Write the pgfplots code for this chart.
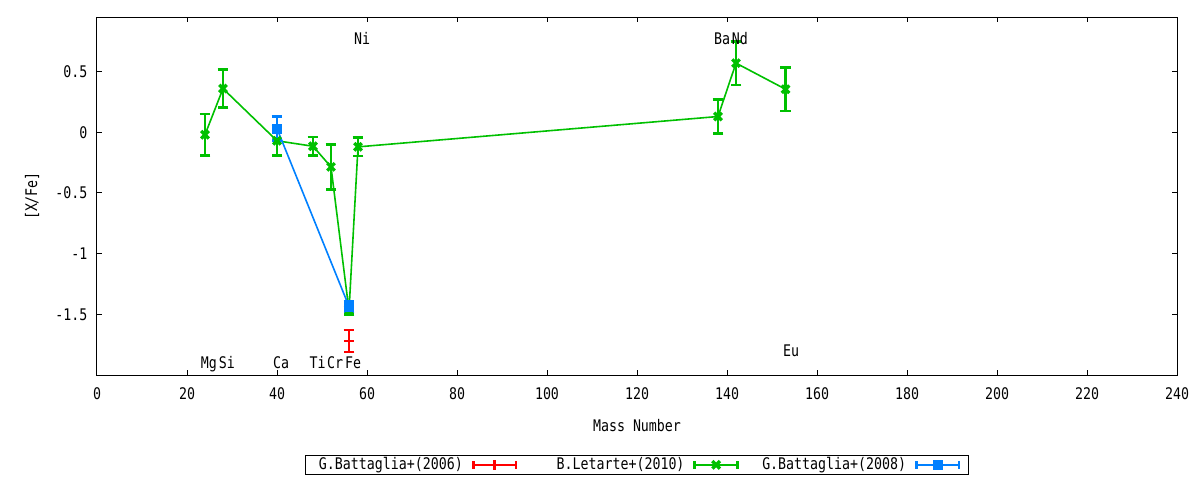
\documentclass[border=0pt]{standalone}
\usepackage{fontspec}
\setmainfont{DejaVu Sans Mono}[FakeStretch=0.83]
\usepackage{pgfplots}
\pgfplotsset{compat=1.18}
\definecolor{gpred}{RGB}{255,0,0}
\definecolor{gpgreen}{RGB}{0,192,0}
\definecolor{gpblue}{RGB}{0,128,255}
\pgfplotsset{
    gperr/.style={
        error bars/.cd,
            y dir=both, y explicit,
            error bar style={line width=2pt, #1},
            error mark=-,
            error mark options={rotate=90, line width=2pt, mark size=4pt, #1},
    },
}
\begin{document}
\fontsize{12}{14}\selectfont
\begin{tikzpicture}
\begin{axis}[
    scale only axis,
    width=810pt, height=268.5pt,
    xmin=0, xmax=240, ymin=-2, ymax=0.95,
    xtick={0,20,40,60,80,100,120,140,160,180,200,220,240},
    xticklabels={0,20,40,60,80,100,120,140,160,180,200,220,240},
    ytick={-1.5,-1,-0.5,0,0.5},
    yticklabels={-1.5,-1,-0.5,0,0.5},
    tick align=inside, tick pos=both,
    major tick length=4pt,
    axis line style={line width=0.75pt},
    every tick/.style={black, line width=0.75pt},
    tick label style={font=\fontsize{12}{14}\selectfont},
    yticklabel style={xshift=-3pt},
    xticklabel style={yshift=-5pt},
    xlabel={Mass Number},
    ylabel={[X/Fe]},
    xlabel style={at={(axis description cs:0.5,-0.14)}, anchor=center},
    ylabel style={at={(axis description cs:-0.06,0.5)}, anchor=center, rotate=0},
    legend columns=3,
    legend plot pos=right,
    legend style={at={(0.5,-0.2235)}, anchor=north, draw=black, line width=0.75pt,
        font=\fontsize{12}{14}\selectfont, inner xsep=6pt, inner ysep=0pt,
        nodes={text width=112pt, align=right, inner xsep=0pt, inner ysep=1.5pt},
        /tikz/every odd column/.append style={column sep=6.75pt},
        /tikz/every even column/.append style={column sep=13.5pt}},
    legend image code/.code={
        \draw[#1, line width=2pt, mark repeat=2, mark phase=2]
            plot coordinates {(0pt,0pt) (16pt,0pt) (32pt,0pt)};
        \draw[#1, line width=2pt, mark=none] (0pt,-3pt) -- (0pt,3pt) (32pt,-3pt) -- (32pt,3pt);
    },
]
% G.Battaglia+(2006)
\addplot[gpred, line width=1pt, mark=+, mark size=3.5pt, mark options={line width=2pt},
    gperr=gpred]
    coordinates {(56,-1.72) +- (0,0.09)};
\addlegendentry{G.Battaglia+(2006)}
% B.Letarte+(2010)
\addplot[gpgreen, line width=1.2pt, mark=x, mark size=4pt, mark options={line width=2.5pt},
    gperr=gpgreen]
    coordinates {
    (24,-0.02) +- (0,0.17)
    (28,0.36) +- (0,0.157)
    (40,-0.07) +- (0,0.12)
    (48,-0.115) +- (0,0.075)
    (52,-0.285) +- (0,0.185)
    (56,-1.47) +- (0,0.03)
    (58,-0.12) +- (0,0.075)
    (138,0.13) +- (0,0.14)
    (142,0.57) +- (0,0.18)
    (153,0.355) +- (0,0.18)
    };
\addlegendentry{B.Letarte+(2010)}
% G.Battaglia+(2008)
\addplot[gpblue, line width=1.2pt, mark=square*, mark size=3.5pt, mark options={line width=0.5pt},
    gperr=gpblue]
    coordinates {
    (40,0.03) +- (0,0.1)
    (56,-1.435) +- (0,0.04)
    };
\addlegendentry{G.Battaglia+(2008)}
% element labels
\node[anchor=base west, inner sep=0pt] at (axis cs:23.0,-1.95) {Mg};
\node[anchor=base west, inner sep=0pt] at (axis cs:27.0,-1.95) {Si};
\node[anchor=base west, inner sep=0pt] at (axis cs:39.1,-1.95) {Ca};
\node[anchor=base west, inner sep=0pt] at (axis cs:47.2,-1.95) {Ti};
\node[anchor=base west, inner sep=0pt] at (axis cs:51.1,-1.95) {Cr};
\node[anchor=base west, inner sep=0pt] at (axis cs:55.1,-1.95) {Fe};
\node[anchor=base west, inner sep=0pt] at (axis cs:57.1,0.724) {Ni};
\node[anchor=base west, inner sep=0pt] at (axis cs:137.1,0.724) {Ba};
\node[anchor=base west, inner sep=0pt] at (axis cs:141.0,0.724) {Nd};
\node[anchor=base west, inner sep=0pt] at (axis cs:152.4,-1.844) {Eu};
\end{axis}
\pgfresetboundingbox
\path ([shift={(-72.75pt,-78.75pt)}]current axis.south west)
    rectangle ([shift={(17.25pt,12.75pt)}]current axis.north east);
\end{tikzpicture}
\end{document}
